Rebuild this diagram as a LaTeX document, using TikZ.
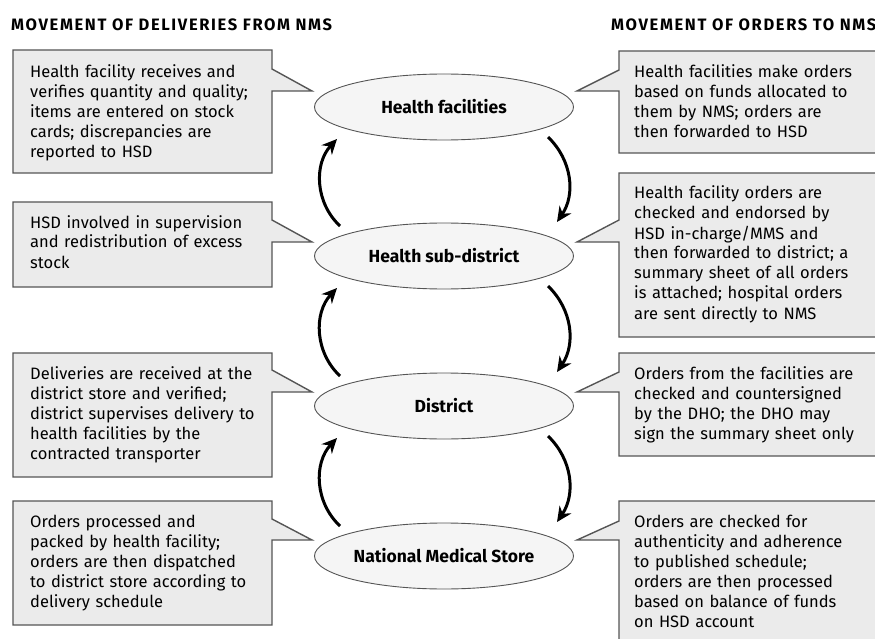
\documentclass[tikz,border=0pt]{standalone}
\usepackage{fontspec}
\setmainfont{Fira Sans}
\usetikzlibrary{arrows.meta,shapes.geometric}
\definecolor{boxfill}{HTML}{EBEBEB}
\definecolor{ellfill}{HTML}{F5F5F5}
\definecolor{edge}{HTML}{555555}

% callout with its pointer on the right (left column)
\newcommand{\westcallout}[4]{%
  \draw[callbox] (13,#1) -- (272,#1) -- (272,#3) -- (312,#4) -- (272,#4)
    -- (272,#2) -- (13,#2) -- cycle;}
% callout with its pointer on the left (right column)
\newcommand{\eastcallout}[4]{%
  \draw[callbox] (895,#1) -- (619,#1) -- (619,#3) -- (577,#4) -- (619,#4)
    -- (619,#2) -- (895,#2) -- cycle;}

\begin{document}
\begin{tikzpicture}[x=1pt,y=-1pt,
  callbox/.style={fill=boxfill,draw=edge,line width=1.4pt,line join=miter},
  stage/.style={shape=ellipse,draw=edge,fill=ellfill,line width=0.9pt,
    minimum width=259pt,minimum height=66pt,inner sep=0pt,
    font=\bfseries\fontsize{17.5}{20}\selectfont},
  note/.style={anchor=base west,text width=255pt,align=left,inner sep=0pt,
    font=\fontsize{16.5}{20}\selectfont},
  heading/.style={anchor=base west,inner sep=0pt,
    font=\bfseries\fontsize{16.5}{18}\selectfont\addfontfeature{LetterSpace=10}},
  flow/.style={line width=3pt,-{Stealth[length=15pt,width=14pt]}}]

\useasboundingbox (0,0) rectangle (875,639);
\clip (0,0) rectangle (875,639);

% column headings
\node[heading] (hleft) at (11,31) {MOVEMENT OF DELIVERIES FROM NMS};
\node[heading] (hright) at (611,31) {MOVEMENT OF ORDERS TO NMS};

% supply chain levels
\node[stage] (hf) at (444,107) {Health facilities};
\node[stage] (hsd) at (444,256) {Health sub-district};
\node[stage] (dist) at (444,406) {District};
\node[stage] (nms) at (444,556) {National Medical Store};

% deliveries move upwards
\draw[flow] ([shift={(-104,-30)}]hsd.center) to[bend left=45] ([shift={(-107,32)}]hf.center);
\draw[flow] ([shift={(-104,-30)}]dist.center) to[bend left=45] ([shift={(-107,32)}]hsd.center);
\draw[flow] ([shift={(-104,-30)}]nms.center) to[bend left=45] ([shift={(-107,32)}]dist.center);

% orders move downwards
\draw[flow] ([shift={(104,30)}]hf.center) to[bend left=40] ([shift={(113,-34)}]hsd.center);
\draw[flow] ([shift={(104,30)}]hsd.center) to[bend left=40] ([shift={(113,-34)}]dist.center);
\draw[flow] ([shift={(104,30)}]dist.center) to[bend left=40] ([shift={(113,-34)}]nms.center);

% deliveries column
\westcallout{50}{173}{69}{91}
\node[note] (d1) at (30,78) {Health facility receives and\\verifies quantity and quality;\\items are entered on stock\\cards; discrepancies are\\reported to HSD};
\westcallout{202}{287}{220}{242}
\node[note] (d2) at (30,228) {HSD involved in supervision\\and redistribution of excess\\stock};
\westcallout{353}{477}{370}{392}
\node[note] (d3) at (30,379) {Deliveries are received at the\\district store and verified;\\district supervises delivery to\\health facilities by the\\contracted transporter};
\westcallout{501}{625}{519}{540}
\node[note] (d4) at (30,527) {Orders processed and\\packed by health facility;\\orders are then dispatched\\to district store according to\\delivery schedule};

% orders column
\eastcallout{51}{153}{70}{91}
\node[note] (o1) at (634,78) {Health facilities make orders\\based on funds allocated to\\them by NMS; orders are\\then forwarded to HSD};
\eastcallout{173}{337}{220}{242}
\node[note] (o2) at (634,199) {Health facility orders are\\checked and endorsed by\\HSD in-charge/MMS and\\then forwarded to district; a\\summary sheet of all orders\\is attached; hospital orders\\are sent directly to NMS};
\eastcallout{353}{456}{372}{392}
\node[note] (o3) at (634,379) {Orders from the facilities are\\checked and countersigned\\by the DHO; the DHO may\\sign the summary sheet only};
\eastcallout{501}{660}{521}{540}
\node[note] (o4) at (634,527) {Orders are checked for\\authenticity and adherence\\to published schedule;\\orders are then processed\\based on balance of funds\\on HSD account};
\end{tikzpicture}
\end{document}
